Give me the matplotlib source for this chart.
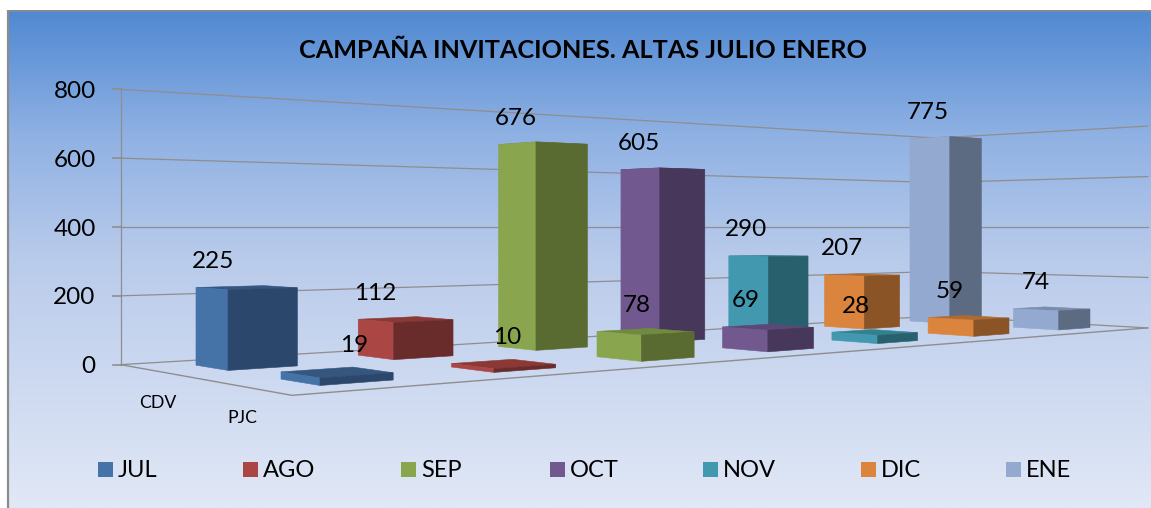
import numpy as np
import matplotlib
matplotlib.use("Agg")
import matplotlib.pyplot as plt
from matplotlib.colors import LinearSegmentedColormap
from matplotlib.patches import Polygon, Rectangle

# ---------- data ----------
months = ["JUL", "AGO", "SEP", "OCT", "NOV", "DIC", "ENE"]
series_names = ["PJC", "CDV"]          # near row first
pjc_values = [19, 10, 78, 69, 28, 59, 74]
cdv_values = [225, 112, 676, 605, 290, 207, 775]
y_ticks = [0, 200, 400, 600, 800]
title = "CAMPAÑA INVITACIONES. ALTAS JULIO ENERO"

# ---------- style ----------
face_light = ["#4572A7", "#AA4643", "#89A54E", "#71588F", "#4198AF", "#DB843D", "#93A9CF"]
face_dark = ["#2B476B", "#6A2C2A", "#5A6B32", "#47375A", "#28606E", "#8A5426", "#5C6A82"]
face_top = ["#35577F", "#8C3936", "#708A40", "#5C4775", "#33808F", "#B06A30", "#7A8CAC"]
GRID = "#8E8E8E"
FONT = "Lato"
# extra horizontal nudges of the near-row value labels, as placed in the original
pjc_label_shift = [51, 34, 18, 1, 2, 0, 0]

# ---------- perspective model (pixels) ----------
X0, H0, HORIZON, ZREF = 320.0, 158.5, 227.0, 400.0
QX, UX, RW, TW = 218.3, -68.0, 0.0899, 0.105
BAR = 0.4
C_MIN, C_MAX, S_MIN, S_MAX = -0.3, 6.7, -0.3, 1.7


def proj(c, s, z):
    w = 1 + RW * c + TW * s
    x = (X0 + QX * c + UX * s) / w
    y = HORIZON + (ZREF - z) / ZREF * H0 / w
    return x, y


fig = plt.figure(figsize=(11.51, 5.08), dpi=100, facecolor="white")
ax = fig.add_axes([0, 0, 1, 1])
ax.axis("off")

# background gradient panel with its grey top and left border
cmap = LinearSegmentedColormap.from_list(
    "bg", [(0, "#5089D2"), (0.25, "#8FB1E3"), (0.5, "#B9CBEB"), (1, "#E1E8F6")])
ax.imshow(np.linspace(0, 1, 256).reshape(-1, 1), cmap=cmap, aspect="auto",
          extent=(8, 1151, 508, 10), zorder=0)
ax.set_xlim(0, 1151)
ax.set_ylim(508, 0)
ax.plot([8, 8], [10, 508], color="#8C8C8C", lw=1.6, zorder=1, solid_capstyle="butt")
ax.plot([7, 1151], [10.5, 10.5], color="#8C8C8C", lw=1.2, zorder=1, solid_capstyle="butt")

# walls and floor
for t in y_ticks:
    pts = [proj(C_MIN, S_MAX, t), proj(C_MAX, S_MAX, t), proj(C_MAX, S_MIN, t)]
    ax.plot(*zip(*pts), color=GRID, lw=0.9, zorder=2)
    x, y = pts[0]
    ax.plot([x - 8, x], [y, y], color=GRID, lw=1.2, zorder=2)
    ax.text(x - 25, y + 2, str(t), ha="right", va="center", fontsize=17.5,
            family=FONT, color="black", zorder=6)
ax.plot(*zip(proj(C_MIN, S_MAX, 0), proj(C_MIN, S_MAX, y_ticks[-1])), color=GRID, lw=0.9, zorder=2)
ax.plot(*zip(proj(C_MIN, S_MAX, 0), proj(C_MIN, S_MIN, 0), proj(C_MAX, S_MIN, 0)),
        color=GRID, lw=1.0, zorder=2)

# bars: far row first
order = 3
for row, values in [(1, cdv_values), (0, pjc_values)]:
    for i, v in enumerate(values):
        c0, c1, s0, s1 = i, i + BAR, row, row + BAR
        top = [proj(c0, s0, v), proj(c1, s0, v), proj(c1, s1, v), proj(c0, s1, v)]
        left = [proj(c0, s0, 0), proj(c0, s1, 0), proj(c0, s1, v), proj(c0, s0, v)]
        near = [proj(c0, s0, 0), proj(c1, s0, 0), proj(c1, s0, v), proj(c0, s0, v)]
        for pts, col in ((top, face_top[i]), (left, face_light[i]), (near, face_dark[i])):
            ax.add_patch(Polygon(pts, closed=True, facecolor=col, edgecolor=col, lw=0.4, zorder=order))
        order += 0.01
        lx, ly = proj(c0, s1, v)
        shift = pjc_label_shift[i] if row == 0 else 0
        ax.text(lx + (22 if row == 0 else 17.5) + shift, ly - 26, str(v), ha="center", va="center",
                fontsize=17.5, family=FONT, color="black", zorder=7)

# series labels
for s, name in zip([0.2, 1.2], series_names):
    x, y = proj(C_MIN, s, 0)
    ax.text(x, y + 32, name, ha="center", va="center", fontsize=12.7, family=FONT, color="black", zorder=6)

# title
ax.text(583.5, 50, title, ha="center", va="center", fontsize=18.2, fontweight="bold",
        family=FONT, color="black", zorder=6)

# legend
legend_x = [98, 243, 401, 550, 703, 861, 1006]
for x, name, col in zip(legend_x, months, face_light):
    ax.add_patch(Rectangle((x, 462), 15, 15, facecolor=col, edgecolor="none", zorder=6))
    ax.text(x + 20, 470.5, name, ha="left", va="center", fontsize=17, family=FONT, color="black", zorder=6)

fig.savefig("out.png", dpi=100)
